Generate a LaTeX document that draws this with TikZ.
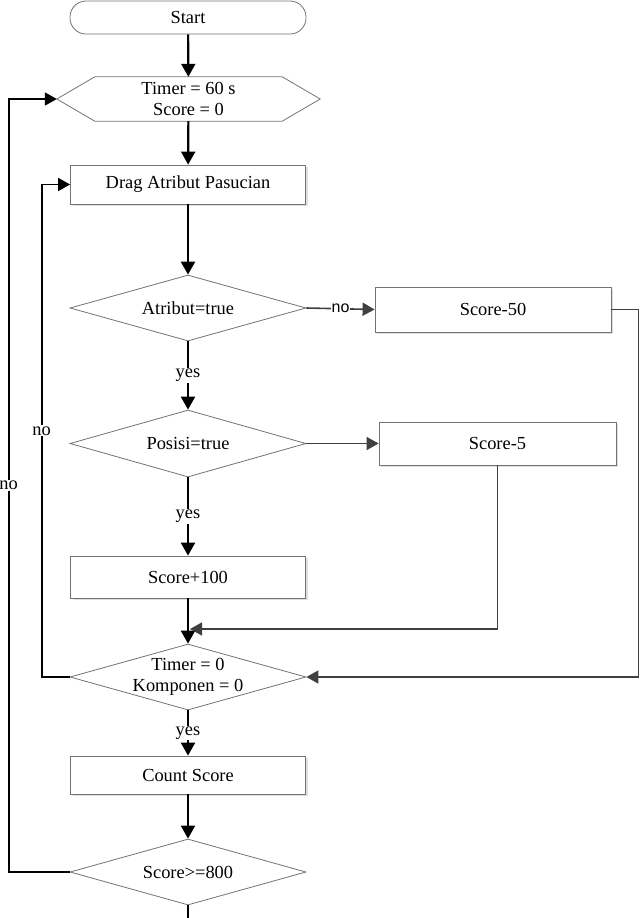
\documentclass[tikz,border=0pt]{standalone}
\usepackage{fontspec}
\setmainfont{Liberation Serif}
\newfontfamily\sansfont{Liberation Sans}
\usetikzlibrary{shapes.geometric,arrows.meta,shadows}

\tikzset{
  box/.style={draw=black!55, line width=0.8pt, fill=white, inner sep=0pt,
    minimum width=235pt, drop shadow={shadow xshift=2pt, shadow yshift=-2pt, fill=black!25}},
  decision/.style={diamond, draw=black!55, line width=0.8pt, fill=white, inner sep=0pt,
    minimum width=236pt, minimum height=66pt, aspect=3.5},
  flow/.style={line width=2.2pt, -{Triangle[length=13pt,width=14pt]}},
  loopline/.style={line width=1.8pt, -{Triangle[length=12pt,width=13pt]}},
  back/.style={line width=1.6pt, draw=black!75, -{Triangle[length=12pt,width=13pt]}},
  tag/.style={fill=white, inner sep=1pt},
}

\begin{document}
\begin{tikzpicture}[x=1pt, y=-1pt, font=\fontsize{18.4}{21}\selectfont]
  \useasboundingbox (0,0) rectangle (640,918);

  % Terminator and initialisation
  \node[draw=black!55, line width=0.8pt, rounded corners=16pt, minimum width=236pt,
        minimum height=33pt, inner sep=0pt] (start) at (188,17.5) {Start};
  \node[minimum width=263pt, minimum height=44pt, inner sep=0pt, align=center]
        (init) at (188.5,99) {Timer = 60 s\\Score = 0};
  \draw[black!55, line width=0.8pt]
    ([xshift=38pt]init.north west) -- ([xshift=-38pt]init.north east) -- (init.east)
    -- ([xshift=-38pt]init.south east) -- ([xshift=38pt]init.south west) -- (init.west) -- cycle;

  % Main column
  \node[box, minimum height=39pt] (drag) at (188,184.5) {Drag Atribut Pasucian};
  \node[decision] (atr) at (188,308) {Atribut=true};
  \node[decision, minimum height=67pt] (pos) at (188,443.5) {Posisi=true};
  \node[box, minimum height=42pt] (plus) at (188,577) {Score+100};
  \node[decision, label={[align=center]center:Timer = 0\\Komponen = 0}] (done) at (188,677) {};
  \node[box, minimum height=38pt] (count) at (188,775) {Count Score};
  \node[decision] (goal) at (188,872) {Score>=800};
  \coordinate (exit) at (188,918);

  % Penalty boxes
  \node[box, minimum width=236pt, minimum height=45pt] (minA) at (493,309.5) {Score-50};
  \node[box, minimum width=237pt, minimum height=43pt] (minB) at (497.5,443.5) {Score-5};
  \coordinate (join) at (190,629);

  % Main flow
  \draw[flow] (start) -- (init);
  \draw[flow] (init) -- (drag);
  \draw[flow] (drag) -- (atr);
  \draw[flow] (atr) -- node[tag] {yes} (pos);
  \draw[flow] (pos) -- node[tag] {yes} (plus);
  \draw[flow] (plus) -- (done);
  \draw[flow] (done) -- node[tag] {yes} (count);
  \draw[flow] (count) -- (goal);
  \draw[line width=2.2pt] (goal) -- (exit);

  % Penalty branches
  \draw[back] (atr.east) -- node[tag, font=\sansfont\fontsize{16}{18}\selectfont] {no} (minA.west);
  \draw[back] (pos.east) -- (minB.west);
  \draw[back] (minB.south) |- (join);
  \draw[back] (minA.east) -- ++(27,0) |- (done.east);

  % Loops back
  \draw[loopline] (done.west) -- ++(-28,0) |- node[tag, pos=0.25] {no} (drag.west);
  \draw[loopline] (goal.west) -- ++(-61,0) |- node[tag, pos=0.25] {no} (init.west);
\end{tikzpicture}
\end{document}
